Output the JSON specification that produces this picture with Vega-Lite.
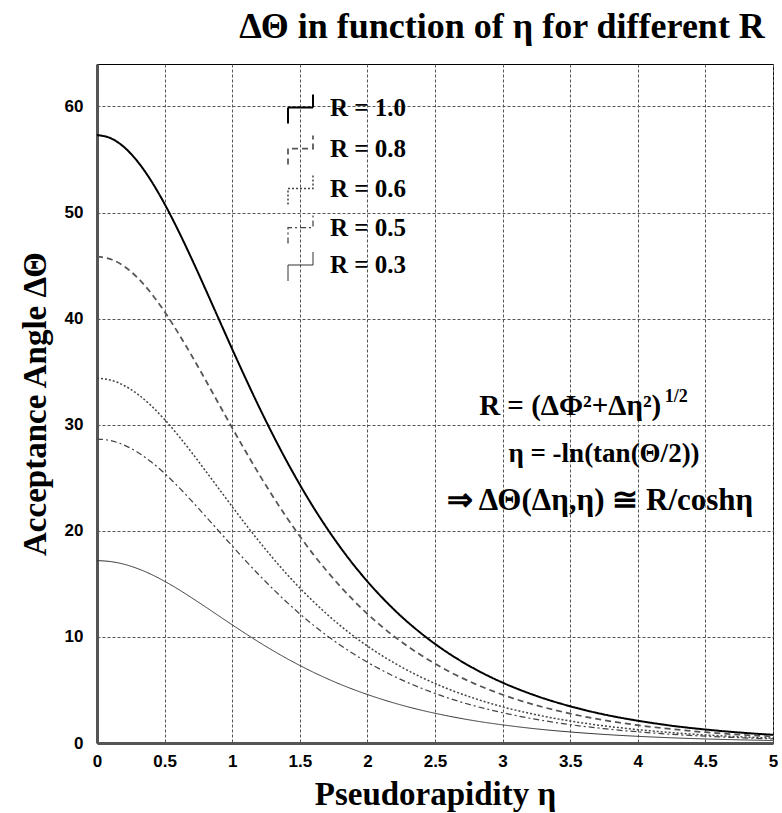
{
  "$schema": "https://vega.github.io/schema/vega-lite/v6.json",
  "autosize": {"type": "none"},
  "width": 676,
  "height": 679,
  "padding": {"left": 97, "top": 64, "right": 9, "bottom": 70},
  "background": "white",
  "title": {
    "text": "ΔΘ in function of η for different R",
    "font": "Liberation Serif",
    "fontSize": 36,
    "fontWeight": "bold",
    "color": "black",
    "anchor": "middle",
    "dx": 67,
    "offset": 18
  },
  "config": {
    "view": {"stroke": "black", "strokeWidth": 1},
    "axis": {
      "labelFont": "Liberation Sans",
      "labelFontWeight": "bold",
      "labelFontSize": 17,
      "labelColor": "black",
      "titleFont": "Liberation Serif",
      "titleFontWeight": "bold",
      "titleFontSize": 33,
      "titleColor": "black",
      "ticks": false,
      "domainColor": "#555555",
      "domainWidth": 3,
      "gridColor": "#555555",
      "gridDash": [3, 2],
      "gridWidth": 1,
      "gridOpacity": 1
    },
    "legend": {
      "orient": "none",
      "legendX": 190,
      "legendY": 30,
      "title": null,
      "labelFont": "Liberation Serif",
      "labelFontWeight": "bold",
      "labelFontSize": 25,
      "labelColor": "black",
      "labelOffset": 16,
      "rowPadding": 4,
      "symbolType": "M-1,1.28V0H1V-1.04",
      "symbolSize": 625,
      "symbolFillColor": "transparent"
    }
  },
  "data": {
    "values": [
      {"eta": 0, "R": "R = 1.0", "theta": 57.30}, {"eta": 0.1, "R": "R = 1.0", "theta": 57.01}, {"eta": 0.2, "R": "R = 1.0", "theta": 56.17}, {"eta": 0.3, "R": "R = 1.0", "theta": 54.81}, {"eta": 0.4, "R": "R = 1.0", "theta": 53.00}, {"eta": 0.5, "R": "R = 1.0", "theta": 50.81}, {"eta": 0.6, "R": "R = 1.0", "theta": 48.33}, {"eta": 0.7, "R": "R = 1.0", "theta": 45.65}, {"eta": 0.8, "R": "R = 1.0", "theta": 42.84}, {"eta": 0.9, "R": "R = 1.0", "theta": 39.98}, {"eta": 1.0, "R": "R = 1.0", "theta": 37.13}, {"eta": 1.1, "R": "R = 1.0", "theta": 34.34}, {"eta": 1.2, "R": "R = 1.0", "theta": 31.64}, {"eta": 1.3, "R": "R = 1.0", "theta": 29.07}, {"eta": 1.4, "R": "R = 1.0", "theta": 26.64}, {"eta": 1.5, "R": "R = 1.0", "theta": 24.36}, {"eta": 1.6, "R": "R = 1.0", "theta": 22.23}, {"eta": 1.7, "R": "R = 1.0", "theta": 20.26}, {"eta": 1.8, "R": "R = 1.0", "theta": 18.44}, {"eta": 1.9, "R": "R = 1.0", "theta": 16.76}, {"eta": 2.0, "R": "R = 1.0", "theta": 15.23}, {"eta": 2.2, "R": "R = 1.0", "theta": 12.54}, {"eta": 2.4, "R": "R = 1.0", "theta": 10.31}, {"eta": 2.6, "R": "R = 1.0", "theta": 8.46}, {"eta": 2.8, "R": "R = 1.0", "theta": 6.94}, {"eta": 3.0, "R": "R = 1.0", "theta": 5.69}, {"eta": 3.25, "R": "R = 1.0", "theta": 4.44}, {"eta": 3.5, "R": "R = 1.0", "theta": 3.46}, {"eta": 3.75, "R": "R = 1.0", "theta": 2.69}, {"eta": 4.0, "R": "R = 1.0", "theta": 2.10}, {"eta": 4.25, "R": "R = 1.0", "theta": 1.63}, {"eta": 4.5, "R": "R = 1.0", "theta": 1.27}, {"eta": 4.75, "R": "R = 1.0", "theta": 0.99}, {"eta": 5.0, "R": "R = 1.0", "theta": 0.77},
      {"eta": 0, "R": "R = 0.8", "theta": 45.84}, {"eta": 0.1, "R": "R = 0.8", "theta": 45.61}, {"eta": 0.2, "R": "R = 0.8", "theta": 44.94}, {"eta": 0.3, "R": "R = 0.8", "theta": 43.85}, {"eta": 0.4, "R": "R = 0.8", "theta": 42.40}, {"eta": 0.5, "R": "R = 0.8", "theta": 40.65}, {"eta": 0.6, "R": "R = 0.8", "theta": 38.66}, {"eta": 0.7, "R": "R = 0.8", "theta": 36.52}, {"eta": 0.8, "R": "R = 0.8", "theta": 34.27}, {"eta": 0.9, "R": "R = 0.8", "theta": 31.98}, {"eta": 1.0, "R": "R = 0.8", "theta": 29.70}, {"eta": 1.1, "R": "R = 0.8", "theta": 27.47}, {"eta": 1.2, "R": "R = 0.8", "theta": 25.31}, {"eta": 1.3, "R": "R = 0.8", "theta": 23.26}, {"eta": 1.4, "R": "R = 0.8", "theta": 21.31}, {"eta": 1.5, "R": "R = 0.8", "theta": 19.49}, {"eta": 1.6, "R": "R = 0.8", "theta": 17.78}, {"eta": 1.7, "R": "R = 0.8", "theta": 16.21}, {"eta": 1.8, "R": "R = 0.8", "theta": 14.75}, {"eta": 1.9, "R": "R = 0.8", "theta": 13.41}, {"eta": 2.0, "R": "R = 0.8", "theta": 12.18}, {"eta": 2.2, "R": "R = 0.8", "theta": 10.03}, {"eta": 2.4, "R": "R = 0.8", "theta": 8.25}, {"eta": 2.6, "R": "R = 0.8", "theta": 6.77}, {"eta": 2.8, "R": "R = 0.8", "theta": 5.55}, {"eta": 3.0, "R": "R = 0.8", "theta": 4.55}, {"eta": 3.25, "R": "R = 0.8", "theta": 3.55}, {"eta": 3.5, "R": "R = 0.8", "theta": 2.77}, {"eta": 3.75, "R": "R = 0.8", "theta": 2.15}, {"eta": 4.0, "R": "R = 0.8", "theta": 1.68}, {"eta": 4.25, "R": "R = 0.8", "theta": 1.31}, {"eta": 4.5, "R": "R = 0.8", "theta": 1.02}, {"eta": 4.75, "R": "R = 0.8", "theta": 0.79}, {"eta": 5.0, "R": "R = 0.8", "theta": 0.62},
      {"eta": 0, "R": "R = 0.6", "theta": 34.38}, {"eta": 0.1, "R": "R = 0.6", "theta": 34.21}, {"eta": 0.2, "R": "R = 0.6", "theta": 33.70}, {"eta": 0.3, "R": "R = 0.6", "theta": 32.89}, {"eta": 0.4, "R": "R = 0.6", "theta": 31.80}, {"eta": 0.5, "R": "R = 0.6", "theta": 30.49}, {"eta": 0.6, "R": "R = 0.6", "theta": 29.00}, {"eta": 0.7, "R": "R = 0.6", "theta": 27.39}, {"eta": 0.8, "R": "R = 0.6", "theta": 25.70}, {"eta": 0.9, "R": "R = 0.6", "theta": 23.99}, {"eta": 1.0, "R": "R = 0.6", "theta": 22.28}, {"eta": 1.1, "R": "R = 0.6", "theta": 20.60}, {"eta": 1.2, "R": "R = 0.6", "theta": 18.99}, {"eta": 1.3, "R": "R = 0.6", "theta": 17.44}, {"eta": 1.4, "R": "R = 0.6", "theta": 15.98}, {"eta": 1.5, "R": "R = 0.6", "theta": 14.61}, {"eta": 1.6, "R": "R = 0.6", "theta": 13.34}, {"eta": 1.7, "R": "R = 0.6", "theta": 12.15}, {"eta": 1.8, "R": "R = 0.6", "theta": 11.06}, {"eta": 1.9, "R": "R = 0.6", "theta": 10.06}, {"eta": 2.0, "R": "R = 0.6", "theta": 9.14}, {"eta": 2.2, "R": "R = 0.6", "theta": 7.53}, {"eta": 2.4, "R": "R = 0.6", "theta": 6.19}, {"eta": 2.6, "R": "R = 0.6", "theta": 5.08}, {"eta": 2.8, "R": "R = 0.6", "theta": 4.17}, {"eta": 3.0, "R": "R = 0.6", "theta": 3.41}, {"eta": 3.25, "R": "R = 0.6", "theta": 2.66}, {"eta": 3.5, "R": "R = 0.6", "theta": 2.07}, {"eta": 3.75, "R": "R = 0.6", "theta": 1.62}, {"eta": 4.0, "R": "R = 0.6", "theta": 1.26}, {"eta": 4.25, "R": "R = 0.6", "theta": 0.98}, {"eta": 4.5, "R": "R = 0.6", "theta": 0.76}, {"eta": 4.75, "R": "R = 0.6", "theta": 0.59}, {"eta": 5.0, "R": "R = 0.6", "theta": 0.46},
      {"eta": 0, "R": "R = 0.5", "theta": 28.65}, {"eta": 0.1, "R": "R = 0.5", "theta": 28.51}, {"eta": 0.2, "R": "R = 0.5", "theta": 28.08}, {"eta": 0.3, "R": "R = 0.5", "theta": 27.41}, {"eta": 0.4, "R": "R = 0.5", "theta": 26.50}, {"eta": 0.5, "R": "R = 0.5", "theta": 25.41}, {"eta": 0.6, "R": "R = 0.5", "theta": 24.17}, {"eta": 0.7, "R": "R = 0.5", "theta": 22.82}, {"eta": 0.8, "R": "R = 0.5", "theta": 21.42}, {"eta": 0.9, "R": "R = 0.5", "theta": 19.99}, {"eta": 1.0, "R": "R = 0.5", "theta": 18.57}, {"eta": 1.1, "R": "R = 0.5", "theta": 17.17}, {"eta": 1.2, "R": "R = 0.5", "theta": 15.82}, {"eta": 1.3, "R": "R = 0.5", "theta": 14.54}, {"eta": 1.4, "R": "R = 0.5", "theta": 13.32}, {"eta": 1.5, "R": "R = 0.5", "theta": 12.18}, {"eta": 1.6, "R": "R = 0.5", "theta": 11.11}, {"eta": 1.7, "R": "R = 0.5", "theta": 10.13}, {"eta": 1.8, "R": "R = 0.5", "theta": 9.22}, {"eta": 1.9, "R": "R = 0.5", "theta": 8.38}, {"eta": 2.0, "R": "R = 0.5", "theta": 7.61}, {"eta": 2.2, "R": "R = 0.5", "theta": 6.27}, {"eta": 2.4, "R": "R = 0.5", "theta": 5.16}, {"eta": 2.6, "R": "R = 0.5", "theta": 4.23}, {"eta": 2.8, "R": "R = 0.5", "theta": 3.47}, {"eta": 3.0, "R": "R = 0.5", "theta": 2.85}, {"eta": 3.25, "R": "R = 0.5", "theta": 2.22}, {"eta": 3.5, "R": "R = 0.5", "theta": 1.73}, {"eta": 3.75, "R": "R = 0.5", "theta": 1.35}, {"eta": 4.0, "R": "R = 0.5", "theta": 1.05}, {"eta": 4.25, "R": "R = 0.5", "theta": 0.82}, {"eta": 4.5, "R": "R = 0.5", "theta": 0.64}, {"eta": 4.75, "R": "R = 0.5", "theta": 0.50}, {"eta": 5.0, "R": "R = 0.5", "theta": 0.39},
      {"eta": 0, "R": "R = 0.3", "theta": 17.19}, {"eta": 0.1, "R": "R = 0.3", "theta": 17.10}, {"eta": 0.2, "R": "R = 0.3", "theta": 16.85}, {"eta": 0.3, "R": "R = 0.3", "theta": 16.44}, {"eta": 0.4, "R": "R = 0.3", "theta": 15.90}, {"eta": 0.5, "R": "R = 0.3", "theta": 15.24}, {"eta": 0.6, "R": "R = 0.3", "theta": 14.50}, {"eta": 0.7, "R": "R = 0.3", "theta": 13.69}, {"eta": 0.8, "R": "R = 0.3", "theta": 12.85}, {"eta": 0.9, "R": "R = 0.3", "theta": 11.99}, {"eta": 1.0, "R": "R = 0.3", "theta": 11.14}, {"eta": 1.1, "R": "R = 0.3", "theta": 10.30}, {"eta": 1.2, "R": "R = 0.3", "theta": 9.49}, {"eta": 1.3, "R": "R = 0.3", "theta": 8.72}, {"eta": 1.4, "R": "R = 0.3", "theta": 7.99}, {"eta": 1.5, "R": "R = 0.3", "theta": 7.31}, {"eta": 1.6, "R": "R = 0.3", "theta": 6.67}, {"eta": 1.7, "R": "R = 0.3", "theta": 6.08}, {"eta": 1.8, "R": "R = 0.3", "theta": 5.53}, {"eta": 1.9, "R": "R = 0.3", "theta": 5.03}, {"eta": 2.0, "R": "R = 0.3", "theta": 4.57}, {"eta": 2.2, "R": "R = 0.3", "theta": 3.76}, {"eta": 2.4, "R": "R = 0.3", "theta": 3.09}, {"eta": 2.6, "R": "R = 0.3", "theta": 2.54}, {"eta": 2.8, "R": "R = 0.3", "theta": 2.08}, {"eta": 3.0, "R": "R = 0.3", "theta": 1.71}, {"eta": 3.25, "R": "R = 0.3", "theta": 1.33}, {"eta": 3.5, "R": "R = 0.3", "theta": 1.04}, {"eta": 3.75, "R": "R = 0.3", "theta": 0.81}, {"eta": 4.0, "R": "R = 0.3", "theta": 0.63}, {"eta": 4.25, "R": "R = 0.3", "theta": 0.49}, {"eta": 4.5, "R": "R = 0.3", "theta": 0.38}, {"eta": 4.75, "R": "R = 0.3", "theta": 0.30}, {"eta": 5.0, "R": "R = 0.3", "theta": 0.23}
    ]
  },
  "layer": [
    {
      "mark": {"type": "line", "interpolate": "monotone"},
      "encoding": {
        "x": {
          "field": "eta",
          "type": "quantitative",
          "scale": {"domain": [0, 5], "nice": false},
          "axis": {
            "title": "Pseudorapidity η",
            "values": [0, 0.5, 1, 1.5, 2, 2.5, 3, 3.5, 4, 4.5, 5],
            "format": "~g",
            "labelPadding": 10,
            "titlePadding": 9,
            "labelFlush": false
          }
        },
        "y": {
          "field": "theta",
          "type": "quantitative",
          "scale": {"domain": [0, 64], "nice": false},
          "axis": {
            "title": "Acceptance Angle ΔΘ",
            "values": [0, 10, 20, 30, 40, 50, 60],
            "labelPadding": 14,
            "titlePadding": 12,
            "labelFlush": false
          }
        },
        "color": {
          "field": "R",
          "type": "ordinal",
          "scale": {
            "domain": ["R = 1.0", "R = 0.8", "R = 0.6", "R = 0.5", "R = 0.3"],
            "range": ["#000000", "#555555", "#444444", "#444444", "#333333"]
          }
        },
        "strokeDash": {
          "field": "R",
          "type": "ordinal",
          "scale": {
            "domain": ["R = 1.0", "R = 0.8", "R = 0.6", "R = 0.5", "R = 0.3"],
            "range": [[1, 0], [6, 4], [2, 2], [6, 3, 2, 3], [1, 0]]
          }
        },
        "strokeWidth": {
          "field": "R",
          "type": "ordinal",
          "scale": {
            "domain": ["R = 1.0", "R = 0.8", "R = 0.6", "R = 0.5", "R = 0.3"],
            "range": [2, 1, 1, 1, 1]
          }
        }
      }
    },
    {
      "data": {"values": [{}]},
      "mark": {"type": "text", "text": "R = (ΔΦ²+Δη²)", "font": "Liberation Serif", "fontWeight": "bold", "fontSize": 29, "align": "center", "baseline": "alphabetic", "color": "black"},
      "encoding": {"x": {"datum": 3.5, "type": "quantitative"}, "y": {"datum": 30.94, "type": "quantitative"}}
    },
    {
      "data": {"values": [{}]},
      "mark": {"type": "text", "text": "1/2", "font": "Liberation Serif", "fontWeight": "bold", "fontSize": 18, "align": "left", "baseline": "alphabetic", "color": "black"},
      "encoding": {"x": {"datum": 4.2, "type": "quantitative"}, "y": {"datum": 32.1, "type": "quantitative"}}
    },
    {
      "data": {"values": [{}]},
      "mark": {"type": "text", "text": "η = -ln(tan(Θ/2))", "font": "Liberation Serif", "fontWeight": "bold", "fontSize": 27, "align": "center", "baseline": "alphabetic", "color": "black"},
      "encoding": {"x": {"datum": 3.75, "type": "quantitative"}, "y": {"datum": 26.51, "type": "quantitative"}}
    },
    {
      "data": {"values": [{}]},
      "mark": {"type": "text", "text": "⇒ ΔΘ(Δη,η) ≅ R/coshη", "font": "Liberation Serif", "fontWeight": "bold", "fontSize": 31, "align": "center", "baseline": "alphabetic", "color": "black"},
      "encoding": {"x": {"datum": 3.72, "type": "quantitative"}, "y": {"datum": 22.0, "type": "quantitative"}}
    }
  ]
}
